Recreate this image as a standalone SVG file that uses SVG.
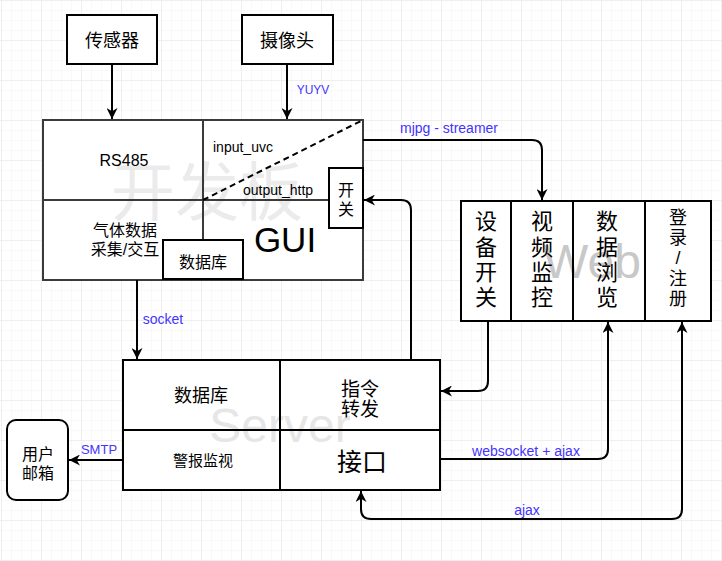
<svg xmlns="http://www.w3.org/2000/svg" width="722" height="561" viewBox="0 0 722 561">
<defs>
<pattern id="minor" x="1" y="0" width="10" height="10" patternUnits="userSpaceOnUse">
<path d="M0,0 V10 M0,0 H10" stroke="#f3f3f3" stroke-width="1" fill="none"/>
</pattern>
<pattern id="major" x="1" y="0" width="40" height="40" patternUnits="userSpaceOnUse">
<path d="M0,0 V40 M0,0 H40" stroke="#e6e6e6" stroke-width="1" fill="none"/>
</pattern>
<marker id="arr" viewBox="0 0 10 10" markerWidth="11" markerHeight="11" markerUnits="userSpaceOnUse" refX="10" refY="5" orient="auto">
<path d="M0,0 L10,5 L0,10 L3,5 z" fill="#000"/>
</marker>
<marker id="arrs" viewBox="0 0 10 10" markerWidth="11" markerHeight="11" markerUnits="userSpaceOnUse" refX="10" refY="5" orient="auto-start-reverse">
<path d="M0,0 L10,5 L0,10 L3,5 z" fill="#000"/>
</marker>
</defs>
<style>
.box{fill:#fff;stroke:#000;stroke-width:2}
.nf{fill:none;stroke:#000;stroke-width:2}
.dev{fill:none;stroke:#3a3a3a;stroke-width:2}
.cn{font-family:"Liberation Sans","Noto Sans CJK SC",sans-serif;fill:#000;text-anchor:middle}
.lbl{font-family:"Liberation Sans","Noto Sans CJK SC",sans-serif;fill:#4433ff;font-size:14px;text-anchor:middle}
.wm{font-family:"Liberation Sans","Noto Sans CJK SC",sans-serif;fill:#e6e6e6;text-anchor:middle}
.con{fill:none;stroke:#000;stroke-width:2}
</style>
<rect width="722" height="561" fill="#fff"/>
<rect width="722" height="561" fill="url(#minor)"/>
<rect width="722" height="561" fill="url(#major)"/>

<g id="sensor">
<rect class="box" x="67" y="15" width="90" height="49"/>
<text class="cn" x="112" y="47" font-size="18">传感器</text>
</g>
<g id="camera">
<rect class="box" x="242" y="15" width="91" height="49"/>
<text class="cn" x="287" y="47" font-size="18">摄像头</text>
</g>

<g id="devboard">
<rect x="43" y="120" width="320" height="160" fill="#fff"/>
<text class="wm" x="207" y="215" font-size="64" fill="#ebebeb" style="fill:#ebebeb">开发板</text>
<rect class="dev" x="43" y="120" width="320" height="160"/>
<path class="dev" d="M203,120 V280 M43,200 H363"/>
<path d="M203,200 L363,120" stroke="#000" stroke-width="2" stroke-dasharray="6,4" fill="none"/>
<text class="cn" x="124" y="166" font-size="16">RS485</text>
<text class="cn" x="213" y="152" font-size="14" style="text-anchor:start">input_uvc</text>
<text class="cn" x="243" y="195" font-size="14" style="text-anchor:start">output_http</text>
<text class="cn" x="285" y="252" font-size="35">GUI</text>
<text class="cn" x="125" y="236" font-size="16">气体数据</text>
<text class="cn" x="125" y="255" font-size="16">采集/交互</text>
</g>
<g id="devdb">
<rect class="box" x="163" y="240" width="80" height="39"/>
<text class="cn" x="203" y="268" font-size="16">数据库</text>
</g>
<g id="switch">
<rect class="box" x="329" y="168" width="34" height="60"/>
<text class="cn" x="346" y="196" font-size="16">开</text>
<text class="cn" x="346" y="215" font-size="16">关</text>
</g>

<g id="web">
<rect x="461" y="201" width="250" height="120" fill="#fff"/>
<text class="wm" x="592" y="278" font-size="48" style="fill:#c8c8c8">Web</text>
<rect class="nf" x="461" y="201" width="250" height="120"/>
<path class="nf" d="M511,201 V321 M573,201 V321 M645,201 V321"/>
<g class="cn" font-size="22">
<text x="486" y="229">设</text><text x="486" y="255">备</text><text x="486" y="280">开</text><text x="486" y="305">关</text>
<text x="542" y="229">视</text><text x="542" y="255">频</text><text x="542" y="280">监</text><text x="542" y="305">控</text>
<text x="607" y="229">数</text><text x="607" y="255">据</text><text x="607" y="280">浏</text><text x="607" y="305">览</text>
</g>
<g class="cn" font-size="18">
<text x="678" y="224">登</text><text x="678" y="244">录</text><text x="678" y="264">/</text><text x="678" y="285">注</text><text x="678" y="305">册</text>
</g>
</g>

<g id="server">
<rect x="123" y="360" width="317" height="130" fill="#fff"/>
<text class="wm" x="280" y="442" font-size="48">Server</text>
<rect class="nf" x="123" y="360" width="317" height="130"/>
<path class="nf" d="M280,360 V490 M123,430 H440"/>
<text class="cn" x="201" y="402" font-size="18">数据库</text>
<text class="cn" x="360" y="396" font-size="19">指令</text>
<text class="cn" x="360" y="416" font-size="19">转发</text>
<text class="cn" x="203" y="466" font-size="15">警报监视</text>
<text class="cn" x="362" y="471" font-size="25">接口</text>
</g>

<g id="mailbox">
<rect class="box" x="7" y="420" width="61" height="80" rx="9" ry="9"/>
<text class="cn" x="38" y="460" font-size="16">用户</text>
<text class="cn" x="38" y="479" font-size="16">邮箱</text>
</g>

<g id="connectors">
<path class="con" d="M112,64 V119" marker-end="url(#arr)"/>
<path class="con" d="M287,64 V119" marker-end="url(#arr)"/>
<path class="con" d="M363,140 H532 Q542,140 542,150 V200" marker-end="url(#arr)"/>
<path class="con" d="M411,360 V210 Q411,200 401,200 H364" marker-end="url(#arr)"/>
<path class="con" d="M137,280 V359" marker-end="url(#arr)"/>
<path class="con" d="M488,321 V381 Q488,391 478,391 H441" marker-end="url(#arr)"/>
<path class="con" d="M440,459 H598 Q608,459 608,449 V322" marker-end="url(#arr)"/>
<path class="con" d="M682,322 V509 Q682,519 672,519 H371 Q361,519 361,509 V491" marker-start="url(#arrs)" marker-end="url(#arr)"/>
<path class="con" d="M123,460 H69" marker-end="url(#arr)"/>
<text class="lbl" x="313" y="94" style="font-size:12px">YUYV</text>
<text class="lbl" x="449" y="133">mjpg - streamer</text>
<text class="lbl" x="163" y="324">socket</text>
<text class="lbl" x="99" y="454" style="font-size:13px">SMTP</text>
<text class="lbl" x="526" y="456">websocket + ajax</text>
<text class="lbl" x="527" y="515">ajax</text>
</g>
</svg>
